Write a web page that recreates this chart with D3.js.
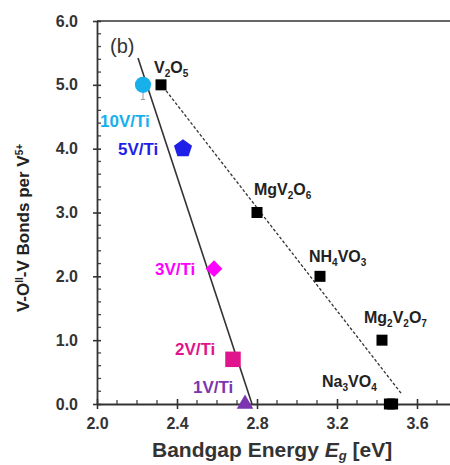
<!DOCTYPE html>
<meta charset="utf-8">
<style>
  body { margin: 0; background: #fff; }
  text { font-family: "Liberation Sans", Arial, sans-serif; }
  .tick text { font-weight: bold; font-size: 16px; fill: #333; }
  .lbl { font-weight: bold; font-size: 16px; }
</style>
<body>
<script src="https://d3js.org/d3.v7.min.js"></script>
<script>
  // reference compounds (black squares)
  var refNames = ["V2O5", "MgV2O6", "NH4VO3", "Mg2V2O7", "Na3VO4", "Na3VO4b"];
  var refEg = [2.32, 2.80, 3.115, 3.425, 3.462, 3.478];
  var refBonds = [5.0, 3.0, 2.0, 1.0, 0.0, 0.0];

  // supported catalysts
  var catNames = ["10V/Ti", "5V/Ti", "3V/Ti", "2V/Ti", "1V/Ti"];
  var catEg = [2.23, 2.43, 2.585, 2.68, 2.74];
  var catBonds = [5.0, 4.0, 2.12, 0.7, 0.0];
  var catColors = ["#17b0ea", "#1f1fe8", "#ff00ff", "#e0148c", "#7b35b0"];
  var catShapes = ["circle", "pentagon", "diamond", "square", "triangle"];

  // fitted lines
  var solidLine = [[2.205, 5.42], [2.775, 0.0]];
  var dashedLine = [[2.33, 4.97], [3.525, 0.15]];

  var xTicks = [2.0, 2.4, 2.8, 3.2, 3.6];
  var yTicks = [0, 1, 2, 3, 4, 5, 6];

  var W = 450, H = 465;
  var x = d3.scaleLinear().domain([2.0, 3.8]).range([97, 457]);
  var y = d3.scaleLinear().domain([0, 6]).range([404, 21]);

  var svg = d3.select("body").append("svg").attr("width", W).attr("height", H);

  // top frame line
  svg.append("line")
    .attr("x1", x(2.0)).attr("x2", W).attr("y1", y(6)).attr("y2", y(6))
    .attr("stroke", "#666").attr("stroke-width", 2);

  // minor ticks
  var xMinor = d3.range(21, 38).filter(function(v) { return v % 4 !== 0; }).map(function(v) { return v / 10; });
  svg.selectAll(".xm").data(xMinor).enter().append("line")
    .attr("x1", function(d) { return x(d); }).attr("x2", function(d) { return x(d); })
    .attr("y1", y(0) - 4).attr("y2", y(0))
    .attr("stroke", "#444").attr("stroke-width", 1.3);
  var yMinor = d3.range(1, 30).filter(function(v) { return v % 5 !== 0; }).map(function(v) { return v / 5; });
  svg.selectAll(".ym").data(yMinor).enter().append("line")
    .attr("x1", x(2.0)).attr("x2", x(2.0) + 4)
    .attr("y1", function(d) { return y(d); }).attr("y2", function(d) { return y(d); })
    .attr("stroke", "#444").attr("stroke-width", 1.3);

  // axes
  var xAxis = svg.append("g").attr("transform", "translate(0," + y(0) + ")")
    .call(d3.axisBottom(x).tickValues(xTicks).tickFormat(d3.format(".1f")).tickSizeInner(5).tickSizeOuter(0).tickPadding(9));
  xAxis.selectAll(".tick line").attr("y1", -5).attr("stroke", "#333").attr("stroke-width", 1.6);
  xAxis.select(".domain").attr("stroke", "#333").attr("stroke-width", 1.8);

  var yAxis = svg.append("g").attr("transform", "translate(" + x(2.0) + ",0)")
    .call(d3.axisLeft(y).tickValues(yTicks).tickFormat(d3.format(".1f")).tickSizeInner(4).tickSizeOuter(0).tickPadding(15));
  yAxis.selectAll(".tick line").attr("x1", 4).attr("x2", -4).attr("stroke", "#333").attr("stroke-width", 1.6);
  yAxis.select(".domain").attr("stroke", "#333").attr("stroke-width", 1.8);

  // axis titles
  var xt = svg.append("text").attr("x", 152).attr("y", 457)
    .style("font-size", "21px").style("font-weight", "bold").attr("fill", "#333");
  xt.append("tspan").text("Bandgap Energy ");
  xt.append("tspan").style("font-style", "italic").text("E");
  xt.append("tspan").attr("dy", 3).style("font-size", "13px").style("font-style", "italic").text("g");
  xt.append("tspan").attr("dy", -3).text(" [eV]");

  var yt = svg.append("text").attr("transform", "translate(29,228) rotate(-90)").attr("text-anchor", "middle")
    .style("font-size", "17px").style("font-weight", "bold").attr("fill", "#222");
  yt.append("tspan").text("V-O");
  yt.append("tspan").attr("dy", -6).style("font-size", "10px").text("II");
  yt.append("tspan").attr("dy", 6).text("-V Bonds per V");
  yt.append("tspan").attr("dy", -6).style("font-size", "10px").text("5+");

  // fit lines
  var line = d3.line().x(function(d) { return x(d[0]); }).y(function(d) { return y(d[1]); });
  svg.append("path").attr("d", line(solidLine)).attr("fill", "none").attr("stroke", "#333").attr("stroke-width", 1.6);
  svg.append("path").attr("d", line(dashedLine)).attr("fill", "none").attr("stroke", "#333").attr("stroke-width", 1.3).attr("stroke-dasharray", "3,2");

  // (b)
  svg.append("text").attr("x", 110).attr("y", 53).style("font-size", "20px").attr("fill", "#333").text("(b)");

  // error bar on 10V/Ti
  svg.append("line").attr("x1", x(catEg[0])).attr("x2", x(catEg[0])).attr("y1", y(5.0)).attr("y2", y(4.77))
    .attr("stroke", "#999").attr("stroke-width", 1);
  svg.append("line").attr("x1", x(catEg[0]) - 2).attr("x2", x(catEg[0]) + 2).attr("y1", y(4.77)).attr("y2", y(4.77))
    .attr("stroke", "#999").attr("stroke-width", 1);

  // reference squares
  svg.selectAll(".ref").data(refEg).enter().append("rect")
    .attr("x", function(d) { return x(d) - 5.5; })
    .attr("y", function(d, i) { return y(refBonds[i]) - 5.5; })
    .attr("width", 11).attr("height", 11).attr("fill", "#000");

  // catalyst markers
  function pentagon(r) {
    var pts = d3.range(5).map(function(k) {
      var a = -Math.PI / 2 + k * 2 * Math.PI / 5;
      return [r * Math.cos(a), r * Math.sin(a)];
    });
    return "M" + pts.join("L") + "Z";
  }
  catEg.forEach(function(e, i) {
    var s = catShapes[i], p, rot = 0;
    if (s === "circle") p = d3.symbol().type(d3.symbolCircle).size(205)();
    else if (s === "pentagon") p = pentagon(9.5);
    else if (s === "diamond") { p = d3.symbol().type(d3.symbolSquare).size(140)(); rot = 45; }
    else if (s === "square") p = d3.symbol().type(d3.symbolSquare).size(240)();
    else p = d3.symbol().type(d3.symbolTriangle).size(120)();
    svg.append("path").attr("d", p)
      .attr("transform", "translate(" + x(e) + "," + y(catBonds[i]) + ") rotate(" + rot + ")")
      .attr("fill", catColors[i]);
  });

  // catalyst labels
  var catLabelPos = [[100, 127], [118, 155], [155, 275], [175, 355], [193, 393]];
  catNames.forEach(function(n, i) {
    svg.append("text").attr("class", "lbl").attr("x", catLabelPos[i][0]).attr("y", catLabelPos[i][1])
      .style("font-size", "17px").attr("fill", catColors[i]).text(n);
  });

  // compound labels with subscripts
  var refLabels = [
    [["V", ""], ["2", "s"], ["O", ""], ["5", "s"]],
    [["MgV", ""], ["2", "s"], ["O", ""], ["6", "s"]],
    [["NH", ""], ["4", "s"], ["VO", ""], ["3", "s"]],
    [["Mg", ""], ["2", "s"], ["V", ""], ["2", "s"], ["O", ""], ["7", "s"]],
    [["Na", ""], ["3", "s"], ["VO", ""], ["4", "s"]]
  ];
  var refLabelPos = [[154, 73], [254, 195], [309, 262], [364, 323], [322, 387]];
  refLabels.forEach(function(parts, i) {
    var t = svg.append("text").attr("class", "lbl").attr("x", refLabelPos[i][0]).attr("y", refLabelPos[i][1]).attr("fill", "#222");
    var sub = false;
    parts.forEach(function(p) {
      var ts = t.append("tspan").text(p[0]);
      if (p[1] === "s") {
        ts.attr("dy", sub ? 0 : 4).style("font-size", "10px");
        sub = true;
      } else {
        ts.attr("dy", sub ? -4 : 0);
        sub = false;
      }
    });
  });
</script>
</body>
